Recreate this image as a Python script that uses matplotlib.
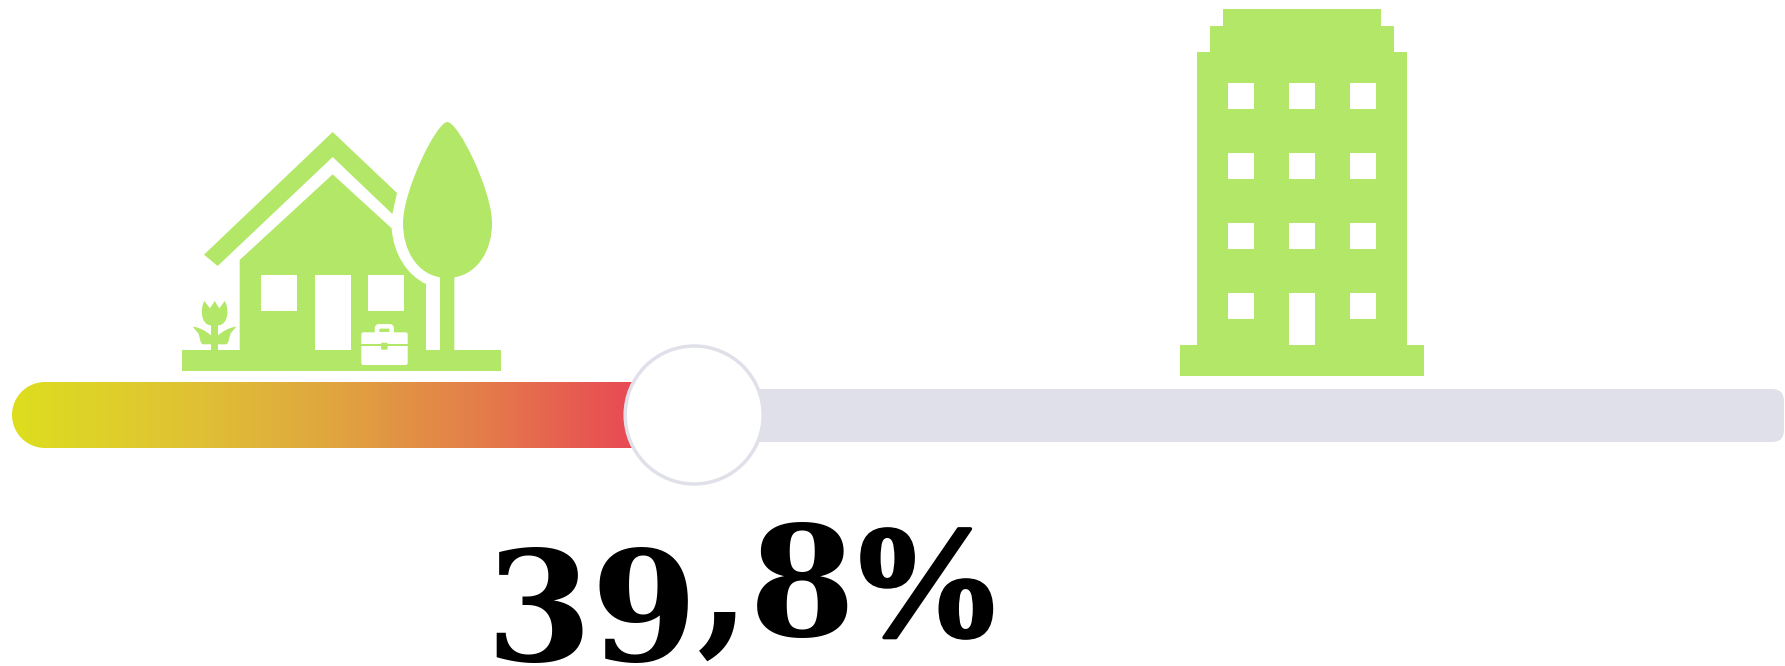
import matplotlib
matplotlib.use("Agg")
import matplotlib.pyplot as plt
import matplotlib.patheffects as pe
import numpy as np
from matplotlib.colors import LinearSegmentedColormap
from matplotlib.patches import FancyBboxPatch, Circle, PathPatch, Polygon, Rectangle
from matplotlib.path import Path
from matplotlib.transforms import Affine2D

# the one value of the chart
value = 39.8
label = f"{value:.1f}".replace(".", ",") + "%"

GREEN = "#B3E768"
TRACK = "#E0E0EA"
gradient_colors = ["#DDDE1E", "#DFC632", "#E0A83E", "#E47E4A", "#E84A54"]

W, H = 1785, 666
fig = plt.figure(figsize=(W / 100, H / 100), dpi=100)
ax = fig.add_axes([0, 0, 1, 1])
ax.set_xlim(0, W)
ax.set_ylim(H, 0)
ax.axis("off")

# slider: pixels per percent comes from where the knob sits
bar_left, bar_right = 12, 1784
px = bar_left + value * 17.14
knob_x, knob_y, knob_r = px, 415, 69

ax.add_patch(FancyBboxPatch((px, 389), bar_right - px, 53,
                            boxstyle="round,pad=0,rounding_size=12", fc=TRACK, ec="none", zorder=1))
# fill with a true half circle on the left
t = np.linspace(np.pi / 2, 3 * np.pi / 2, 40)
fill_x = np.r_[bar_left + 33 + 33 * np.cos(t), px, px]
fill_y = np.r_[415 - 33 * np.sin(t), 448, 382]
fill = Polygon(np.c_[fill_x, fill_y], closed=True, fc="none", ec="none", zorder=2)
ax.add_patch(fill)
cmap = LinearSegmentedColormap.from_list("bar", gradient_colors)
im = ax.imshow(np.linspace(0, 1, 256).reshape(1, -1), cmap=cmap, aspect="auto",
               extent=[bar_left, 632, 448, 382], zorder=2)
im.set_clip_path(fill)
ax.set_xlim(0, W)
ax.set_ylim(H, 0)
ax.add_patch(Circle((knob_x, knob_y), knob_r, fc="white", ec=TRACK, lw=2.5, zorder=3))

# house icon, coordinates measured on a 3x crop
house = Affine2D().scale(1 / 3).translate(150, 100) + ax.transData


def shape(verts, codes=None, fc=GREEN, tr=house, z=4):
    ax.add_patch(PathPatch(Path(verts, codes), fc=fc, ec="none", transform=tr, zorder=z))


M, L, C = Path.MOVETO, Path.LINETO, Path.CURVE4
shape([(548, 96), (741, 279), (727, 342), (548, 171), (203, 498), (162, 464), (548, 96)])
shape([(269, 480), (548, 223), (725, 385), (730, 460), (770, 525), (828, 552),
       (828, 750), (1053, 750), (1053, 813), (96, 813), (96, 750), (269, 750), (269, 480)],
      [M, L, L, C, C, C, L, L, L, L, L, L, L])
shape([(892, 66), (860, 66), (759, 270), (759, 370), (759, 450), (800, 520), (870, 532),
       (870, 750), (913, 750), (913, 532), (985, 520), (1026, 450), (1026, 370),
       (1026, 270), (925, 66), (892, 66)],
      [M, C, C, C, C, C, C, L, L, L, C, C, C, C, C, C])
# tulip
shape([(163, 603), (180, 625), (194, 603), (208, 625), (224, 603), (238, 625), (236, 675), (204, 676),
       (204, 750), (183, 750), (183, 676), (152, 675), (150, 625), (163, 603)],
      [M, L, L, L, L, C, C, C, L, L, L, C, C, C])
shape([(128, 680), (150, 682), (170, 695), (183, 706), (183, 733), (160, 733), (150, 733), (150, 712),
       (145, 700), (128, 680)], [M, C, C, C, L, L, C, C, C, L])
shape([(259, 680), (237, 682), (217, 695), (204, 706), (204, 733), (227, 733), (237, 733), (237, 712),
       (242, 700), (259, 680)], [M, C, C, C, L, L, C, C, C, L])
# white parts of the house
for x0, x1, y0, y1 in [(333, 441, 524, 632), (495, 602, 524, 750), (655, 763, 524, 632)]:
    ax.add_patch(Rectangle((x0, y0), x1 - x0, y1 - y0, fc="white", ec="none", transform=house, zorder=5))
# briefcase
ax.add_patch(FancyBboxPatch((634, 697), 139, 98, boxstyle="round,pad=0,rounding_size=6",
                            fc="white", ec="none", transform=house, zorder=5))
ax.add_patch(FancyBboxPatch((681, 679), 44, 24, boxstyle="round,pad=0,rounding_size=6",
                            fc="none", ec="white", lw=3.3, transform=house, zorder=5))
ax.add_patch(Rectangle((634, 733), 139, 6, fc=GREEN, ec="none", transform=house, zorder=6))
ax.add_patch(FancyBboxPatch((693, 728), 20, 21, boxstyle="round,pad=0,rounding_size=4",
                            fc=GREEN, ec="none", transform=house, zorder=6))

# office building icon
tower = Affine2D().scale(1 / 3).translate(1160, 0) + ax.transData
ax.add_patch(Polygon([(190, 26), (662, 26), (662, 78), (701, 78), (701, 157), (741, 157), (741, 1036),
                      (793, 1036), (793, 1127), (59, 1127), (59, 1036), (111, 1036), (111, 157),
                      (151, 157), (151, 78), (190, 78)], fc=GREEN, ec="none", transform=tower, zorder=4))
for wx in [203, 387, 570]:
    for wy in [249, 459, 669, 879]:
        hh = 157 if (wx == 387 and wy == 879) else 78
        ax.add_patch(Rectangle((wx, wy), 78, hh, fc="white", ec="none", transform=tower, zorder=5))

# big number, the first two digits sit lower like old-style figures
ax.text(592, 661, label[:2], family="DejaVu Serif", weight="bold", fontsize=110, ha="center",
        va="baseline", color="black", zorder=6)
ax.text(777, 636, label[2:4], family="DejaVu Serif", weight="bold", fontsize=110, ha="center",
        va="baseline", color="black", zorder=6)
ax.text(926, 636, label[4:], family="Liberation Serif", weight="bold", fontsize=116, ha="center",
        va="baseline", color="black", zorder=6,
        path_effects=[pe.withStroke(linewidth=2.5, foreground="black")])

fig.savefig("out.png", dpi=100, facecolor="white")
